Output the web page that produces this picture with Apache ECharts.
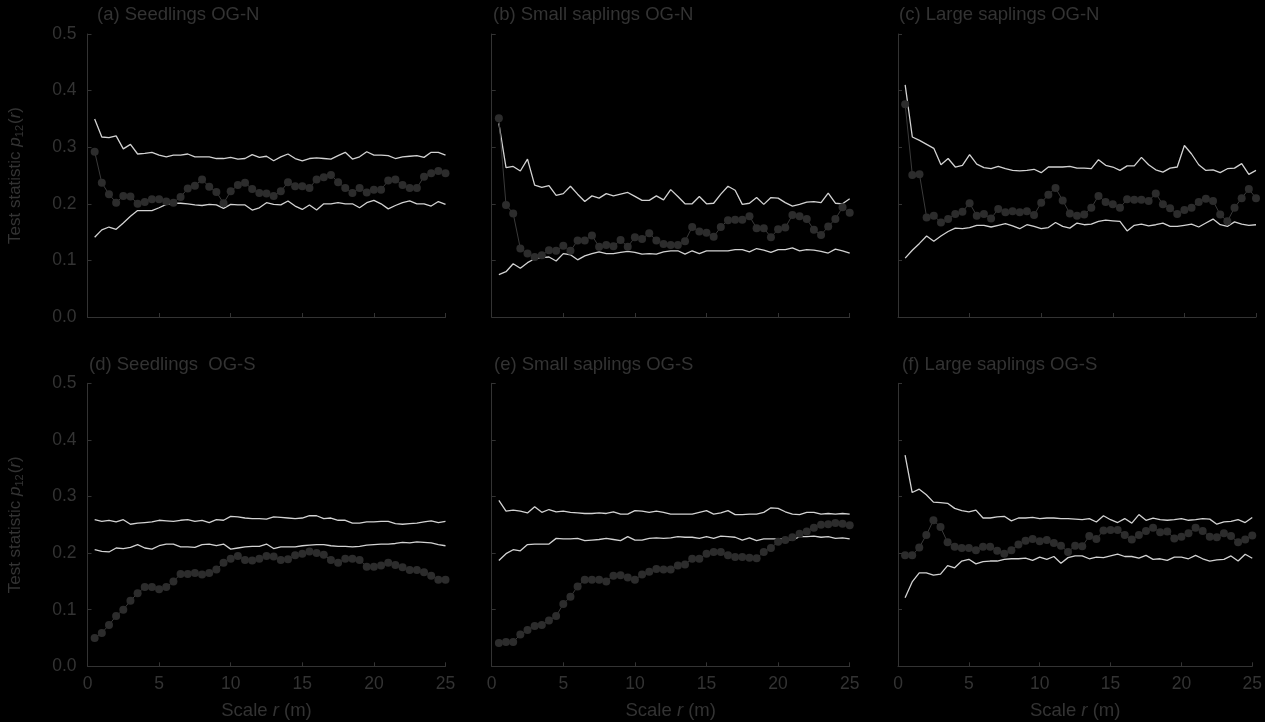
<!DOCTYPE html>
<html>
<head>
<meta charset="utf-8">
<title>Test statistic p12(r) by scale</title>
<script src="https://cdn.jsdelivr.net/npm/echarts@6/dist/echarts.min.js"></script>
<style>
  html, body { margin: 0; padding: 0; background: #000; }
  #chart { width: 1265px; height: 722px; }
</style>
</head>
<body>
<div id="chart"></div>
<script>
// Scale r (m)
const scaleR = [0.5, 1, 1.5, 2, 2.5, 3, 3.5, 4, 4.5, 5, 5.5, 6, 6.5, 7, 7.5, 8, 8.5, 9, 9.5, 10,
  10.5, 11, 11.5, 12, 12.5, 13, 13.5, 14, 14.5, 15, 15.5, 16, 16.5, 17, 17.5, 18, 18.5, 19, 19.5, 20,
  20.5, 21, 21.5, 22, 22.5, 23, 23.5, 24, 24.5, 25];

const panelTitles = ['(a) Seedlings OG-N', '(b) Small saplings OG-N', '(c) Large saplings OG-N',
  '(d) Seedlings  OG-S', '(e) Small saplings OG-S', '(f) Large saplings OG-S'];

const yTicks = [0, 0.1, 0.2, 0.3, 0.4, 0.5];
const xTicks = [0, 5, 10, 15, 20, 25];

// (a) Seedlings OG-N
const aObs = [0.292, 0.237, 0.217, 0.202, 0.214, 0.213, 0.200, 0.203, 0.208, 0.208,
  0.204, 0.202, 0.212, 0.227, 0.232, 0.243, 0.230, 0.221, 0.201, 0.222,
  0.233, 0.237, 0.226, 0.219, 0.218, 0.214, 0.222, 0.238, 0.231, 0.231,
  0.228, 0.243, 0.247, 0.251, 0.238, 0.228, 0.219, 0.228, 0.220, 0.225,
  0.225, 0.241, 0.243, 0.233, 0.228, 0.228, 0.248, 0.254, 0.258, 0.254];
const aUpper = [0.350, 0.318, 0.317, 0.320, 0.297, 0.305, 0.288, 0.289, 0.291, 0.286,
  0.283, 0.286, 0.286, 0.288, 0.283, 0.283, 0.283, 0.280, 0.280, 0.282,
  0.279, 0.280, 0.287, 0.282, 0.284, 0.276, 0.283, 0.288, 0.280, 0.276,
  0.280, 0.281, 0.280, 0.279, 0.285, 0.291, 0.279, 0.283, 0.292, 0.286,
  0.286, 0.285, 0.280, 0.283, 0.284, 0.285, 0.282, 0.291, 0.291, 0.286];
const aLower = [0.141, 0.154, 0.159, 0.155, 0.166, 0.178, 0.188, 0.188, 0.188, 0.193,
  0.199, 0.201, 0.201, 0.200, 0.198, 0.197, 0.199, 0.198, 0.192, 0.199,
  0.198, 0.198, 0.189, 0.193, 0.202, 0.199, 0.198, 0.205, 0.196, 0.190,
  0.198, 0.189, 0.200, 0.200, 0.202, 0.200, 0.200, 0.193, 0.202, 0.206,
  0.200, 0.191, 0.197, 0.202, 0.205, 0.200, 0.200, 0.196, 0.204, 0.199];

// (b) Small saplings OG-N
const bObs = [0.351, 0.198, 0.183, 0.121, 0.112, 0.106, 0.109, 0.118, 0.117, 0.126,
  0.117, 0.135, 0.135, 0.144, 0.124, 0.127, 0.125, 0.136, 0.124, 0.141,
  0.138, 0.148, 0.135, 0.129, 0.127, 0.127, 0.134, 0.159, 0.151, 0.149,
  0.142, 0.159, 0.171, 0.172, 0.172, 0.178, 0.157, 0.157, 0.141, 0.155,
  0.158, 0.180, 0.178, 0.173, 0.154, 0.145, 0.160, 0.173, 0.194, 0.184];
const bUpper = [0.342, 0.264, 0.266, 0.258, 0.279, 0.233, 0.229, 0.232, 0.215, 0.218,
  0.231, 0.217, 0.204, 0.214, 0.210, 0.218, 0.214, 0.217, 0.220, 0.213,
  0.206, 0.206, 0.214, 0.207, 0.225, 0.213, 0.200, 0.200, 0.213, 0.200,
  0.201, 0.217, 0.231, 0.224, 0.199, 0.201, 0.211, 0.199, 0.211, 0.210,
  0.202, 0.196, 0.199, 0.203, 0.204, 0.202, 0.219, 0.201, 0.200, 0.209];
const bLower = [0.075, 0.080, 0.094, 0.086, 0.096, 0.103, 0.105, 0.106, 0.099, 0.112,
  0.110, 0.101, 0.108, 0.112, 0.115, 0.112, 0.112, 0.114, 0.116, 0.114,
  0.111, 0.112, 0.111, 0.115, 0.117, 0.117, 0.111, 0.117, 0.112, 0.117,
  0.117, 0.117, 0.117, 0.119, 0.119, 0.115, 0.121, 0.118, 0.114, 0.119,
  0.119, 0.122, 0.117, 0.119, 0.118, 0.116, 0.113, 0.120, 0.117, 0.113];

// (c) Large saplings OG-N
const cObs = [0.376, 0.251, 0.252, 0.176, 0.179, 0.167, 0.173, 0.182, 0.186, 0.201,
  0.179, 0.182, 0.174, 0.191, 0.185, 0.187, 0.185, 0.187, 0.180, 0.202,
  0.216, 0.228, 0.206, 0.183, 0.179, 0.181, 0.193, 0.214, 0.203, 0.199,
  0.193, 0.208, 0.207, 0.207, 0.205, 0.218, 0.199, 0.192, 0.182, 0.189,
  0.193, 0.203, 0.209, 0.205, 0.181, 0.169, 0.193, 0.210, 0.226, 0.210];
const cUpper = [0.410, 0.318, 0.312, 0.305, 0.298, 0.269, 0.280, 0.265, 0.268, 0.287,
  0.270, 0.264, 0.262, 0.266, 0.262, 0.259, 0.258, 0.259, 0.261, 0.255,
  0.265, 0.265, 0.265, 0.266, 0.263, 0.263, 0.262, 0.278, 0.268, 0.265,
  0.259, 0.267, 0.267, 0.282, 0.269, 0.260, 0.256, 0.263, 0.265, 0.303,
  0.288, 0.269, 0.259, 0.260, 0.255, 0.262, 0.263, 0.271, 0.252, 0.259];
const cLower = [0.104, 0.118, 0.130, 0.143, 0.134, 0.143, 0.151, 0.157, 0.156, 0.158,
  0.162, 0.162, 0.159, 0.162, 0.165, 0.161, 0.156, 0.163, 0.160, 0.156,
  0.158, 0.167, 0.160, 0.157, 0.166, 0.163, 0.164, 0.169, 0.171, 0.170,
  0.169, 0.152, 0.162, 0.164, 0.161, 0.163, 0.166, 0.160, 0.160, 0.162,
  0.164, 0.159, 0.166, 0.173, 0.163, 0.160, 0.168, 0.164, 0.162, 0.163];

// (d) Seedlings OG-S
const dObs = [0.050, 0.059, 0.073, 0.089, 0.100, 0.116, 0.129, 0.140, 0.140, 0.136,
  0.140, 0.150, 0.163, 0.163, 0.165, 0.162, 0.165, 0.171, 0.183, 0.190,
  0.195, 0.188, 0.187, 0.190, 0.195, 0.194, 0.188, 0.189, 0.196, 0.199,
  0.203, 0.200, 0.197, 0.188, 0.183, 0.190, 0.190, 0.188, 0.176, 0.176,
  0.178, 0.183, 0.179, 0.175, 0.170, 0.170, 0.166, 0.160, 0.153, 0.153];
const dUpper = [0.259, 0.256, 0.258, 0.255, 0.259, 0.251, 0.253, 0.254, 0.255, 0.258,
  0.257, 0.256, 0.258, 0.259, 0.256, 0.258, 0.254, 0.259, 0.258, 0.265,
  0.264, 0.262, 0.261, 0.261, 0.260, 0.264, 0.263, 0.262, 0.261, 0.262,
  0.266, 0.266, 0.261, 0.262, 0.258, 0.258, 0.253, 0.253, 0.255, 0.255,
  0.256, 0.256, 0.252, 0.251, 0.252, 0.253, 0.255, 0.257, 0.254, 0.256];
const dLower = [0.206, 0.203, 0.202, 0.209, 0.208, 0.210, 0.215, 0.209, 0.207, 0.213,
  0.216, 0.216, 0.211, 0.211, 0.210, 0.215, 0.216, 0.213, 0.216, 0.207,
  0.209, 0.211, 0.212, 0.212, 0.216, 0.208, 0.211, 0.211, 0.211, 0.213,
  0.214, 0.215, 0.215, 0.213, 0.212, 0.212, 0.211, 0.212, 0.214, 0.215,
  0.216, 0.216, 0.217, 0.219, 0.218, 0.220, 0.219, 0.218, 0.215, 0.213];

// (e) Small saplings OG-S
const eObs = [0.041, 0.043, 0.043, 0.056, 0.064, 0.071, 0.073, 0.081, 0.089, 0.110,
  0.123, 0.141, 0.153, 0.153, 0.153, 0.150, 0.160, 0.161, 0.157, 0.153,
  0.162, 0.167, 0.172, 0.171, 0.171, 0.178, 0.180, 0.190, 0.190, 0.199,
  0.202, 0.202, 0.196, 0.193, 0.193, 0.192, 0.191, 0.202, 0.209, 0.220,
  0.223, 0.228, 0.234, 0.238, 0.245, 0.250, 0.251, 0.253, 0.252, 0.249];
const eUpper = [0.293, 0.274, 0.276, 0.274, 0.271, 0.282, 0.272, 0.277, 0.273, 0.274,
  0.272, 0.271, 0.270, 0.270, 0.271, 0.270, 0.273, 0.269, 0.269, 0.275,
  0.274, 0.272, 0.274, 0.272, 0.269, 0.269, 0.269, 0.269, 0.272, 0.275,
  0.269, 0.271, 0.275, 0.268, 0.268, 0.269, 0.269, 0.272, 0.280, 0.279,
  0.273, 0.269, 0.268, 0.272, 0.272, 0.269, 0.270, 0.269, 0.270, 0.269];
const eLower = [0.187, 0.199, 0.206, 0.204, 0.215, 0.216, 0.216, 0.216, 0.226, 0.225,
  0.225, 0.226, 0.222, 0.223, 0.224, 0.226, 0.224, 0.222, 0.229, 0.223,
  0.223, 0.226, 0.227, 0.226, 0.227, 0.229, 0.228, 0.228, 0.226, 0.229,
  0.226, 0.230, 0.229, 0.228, 0.223, 0.227, 0.222, 0.225, 0.225, 0.225,
  0.225, 0.223, 0.229, 0.229, 0.230, 0.228, 0.229, 0.226, 0.227, 0.225];

// (f) Large saplings OG-S
const fObs = [0.196, 0.196, 0.210, 0.232, 0.258, 0.246, 0.219, 0.211, 0.209, 0.209,
  0.205, 0.211, 0.211, 0.204, 0.199, 0.205, 0.215, 0.222, 0.225, 0.221,
  0.223, 0.218, 0.213, 0.202, 0.213, 0.212, 0.230, 0.225, 0.240, 0.241,
  0.241, 0.232, 0.224, 0.232, 0.239, 0.245, 0.237, 0.238, 0.226, 0.229,
  0.235, 0.245, 0.239, 0.229, 0.228, 0.235, 0.230, 0.219, 0.224, 0.231];
const fUpper = [0.373, 0.307, 0.313, 0.303, 0.290, 0.289, 0.288, 0.279, 0.275, 0.273,
  0.276, 0.262, 0.262, 0.264, 0.265, 0.257, 0.262, 0.262, 0.263, 0.261,
  0.262, 0.262, 0.261, 0.261, 0.260, 0.259, 0.261, 0.255, 0.266, 0.259,
  0.254, 0.261, 0.253, 0.268, 0.258, 0.262, 0.259, 0.258, 0.259, 0.261,
  0.258, 0.259, 0.261, 0.260, 0.251, 0.255, 0.256, 0.259, 0.254, 0.263];
const fLower = [0.121, 0.149, 0.165, 0.165, 0.161, 0.163, 0.178, 0.174, 0.186, 0.189,
  0.181, 0.185, 0.186, 0.186, 0.189, 0.190, 0.190, 0.191, 0.187, 0.193,
  0.189, 0.194, 0.182, 0.192, 0.195, 0.195, 0.190, 0.193, 0.192, 0.195,
  0.198, 0.194, 0.194, 0.191, 0.196, 0.189, 0.190, 0.187, 0.193, 0.193,
  0.190, 0.196, 0.190, 0.186, 0.188, 0.189, 0.195, 0.186, 0.198, 0.191];

const panels = [
  { obs: aObs, upper: aUpper, lower: aLower },
  { obs: bObs, upper: bUpper, lower: bLower },
  { obs: cObs, upper: cUpper, lower: cLower },
  { obs: dObs, upper: dUpper, lower: dLower },
  { obs: eObs, upper: eUpper, lower: eLower },
  { obs: fObs, upper: fUpper, lower: fLower }
];

const FONT = '"Liberation Sans", Arial, Helvetica, sans-serif';
const TEXT = '#333333';
const AXIS = '#333333';
const ENVELOPE = '#d2d2d2';
const DOT = '#2c2c2c';

const colLeft = [87.5, 491.7, 898];
const rowTop = [34, 383.3];
const plotW = 358;
const plotH = 283;
const titlePos = [[97, 5], [493, 5], [899, 5], [89, 355], [494, 355], [902, 355]];

const pair = (ys) => scaleR.map((r, i) => [r, ys[i]]);

const grids = [], xAxes = [], yAxes = [], titles = [], series = [];

panels.forEach((p, k) => {
  const row = Math.floor(k / 3), col = k % 3;
  const bottomRow = row === 1, leftCol = col === 0;
  grids.push({ left: colLeft[col], top: rowTop[row], width: plotW, height: plotH });
  titles.push({
    text: panelTitles[k], left: titlePos[k][0], top: titlePos[k][1], padding: 0,
    textStyle: { color: TEXT, fontFamily: FONT, fontSize: 18.5, fontWeight: 'normal' }
  });
  xAxes.push({
    type: 'value', gridIndex: k, min: 0, max: 25, interval: 5,
    axisLine: { show: true, lineStyle: { color: AXIS, width: 1 } },
    axisTick: { show: true, inside: true, length: 4, lineStyle: { color: AXIS } },
    splitLine: { show: false },
    axisLabel: {
      show: bottomRow, color: TEXT, fontFamily: FONT, fontSize: 17.5, margin: 9,
      formatter: (v) => xTicks.includes(v) ? String(v) : ''
    },
    name: bottomRow ? '{t|Scale }{i|r}{t| (m)}' : '',
    nameLocation: 'middle', nameGap: 35,
    nameTextStyle: {
      color: TEXT, fontFamily: FONT, fontSize: 18.5,
      rich: {
        t: { color: TEXT, fontFamily: FONT, fontSize: 18.5 },
        i: { color: TEXT, fontFamily: FONT, fontSize: 18.5, fontStyle: 'italic' }
      }
    }
  });
  yAxes.push({
    type: 'value', gridIndex: k, min: 0, max: 0.5, interval: 0.1,
    axisLine: { show: true, lineStyle: { color: AXIS, width: 1 } },
    axisTick: { show: true, inside: true, length: 4, lineStyle: { color: AXIS } },
    splitLine: { show: false },
    axisLabel: {
      show: leftCol, color: TEXT, fontFamily: FONT, fontSize: 17.5, margin: 11,
      formatter: (v) => yTicks.some(t => Math.abs(t - v) < 1e-9) ? v.toFixed(1) : ''
    },
    name: leftCol ? '{t|Test statistic }{i|p}{s|12}{t|(}{i|r}{t|)}' : '',
    nameLocation: 'middle', nameGap: 62,
    nameTextStyle: {
      color: TEXT, fontFamily: FONT, fontSize: 17,
      rich: {
        t: { color: TEXT, fontFamily: FONT, fontSize: 17, lineHeight: 20, verticalAlign: 'middle' },
        i: { color: TEXT, fontFamily: FONT, fontSize: 17, fontStyle: 'italic', lineHeight: 20, verticalAlign: 'middle' },
        s: { color: TEXT, fontFamily: FONT, fontSize: 11, lineHeight: 20, verticalAlign: 'bottom', padding: [0, 1, 0, 0] }
      }
    }
  });
  const env = (ys) => ({
    type: 'line', xAxisIndex: k, yAxisIndex: k, data: pair(ys),
    showSymbol: false, symbol: 'none', silent: true, animation: false,
    lineStyle: { color: ENVELOPE, width: 1.3 }, z: 2
  });
  series.push(env(p.upper), env(p.lower));
  series.push({
    type: 'line', xAxisIndex: k, yAxisIndex: k, data: pair(p.obs),
    symbol: 'circle', symbolSize: 8, showSymbol: true, silent: true, animation: false,
    itemStyle: { color: DOT, borderWidth: 0 },
    lineStyle: { color: '#3a3a3a', width: 1 }, z: 3
  });
});

const chart = echarts.init(document.getElementById('chart'), null, { renderer: 'canvas' });
chart.setOption({
  backgroundColor: '#000000',
  animation: false,
  title: titles,
  grid: grids,
  xAxis: xAxes,
  yAxis: yAxes,
  series: series
});
</script>
</body>
</html>
